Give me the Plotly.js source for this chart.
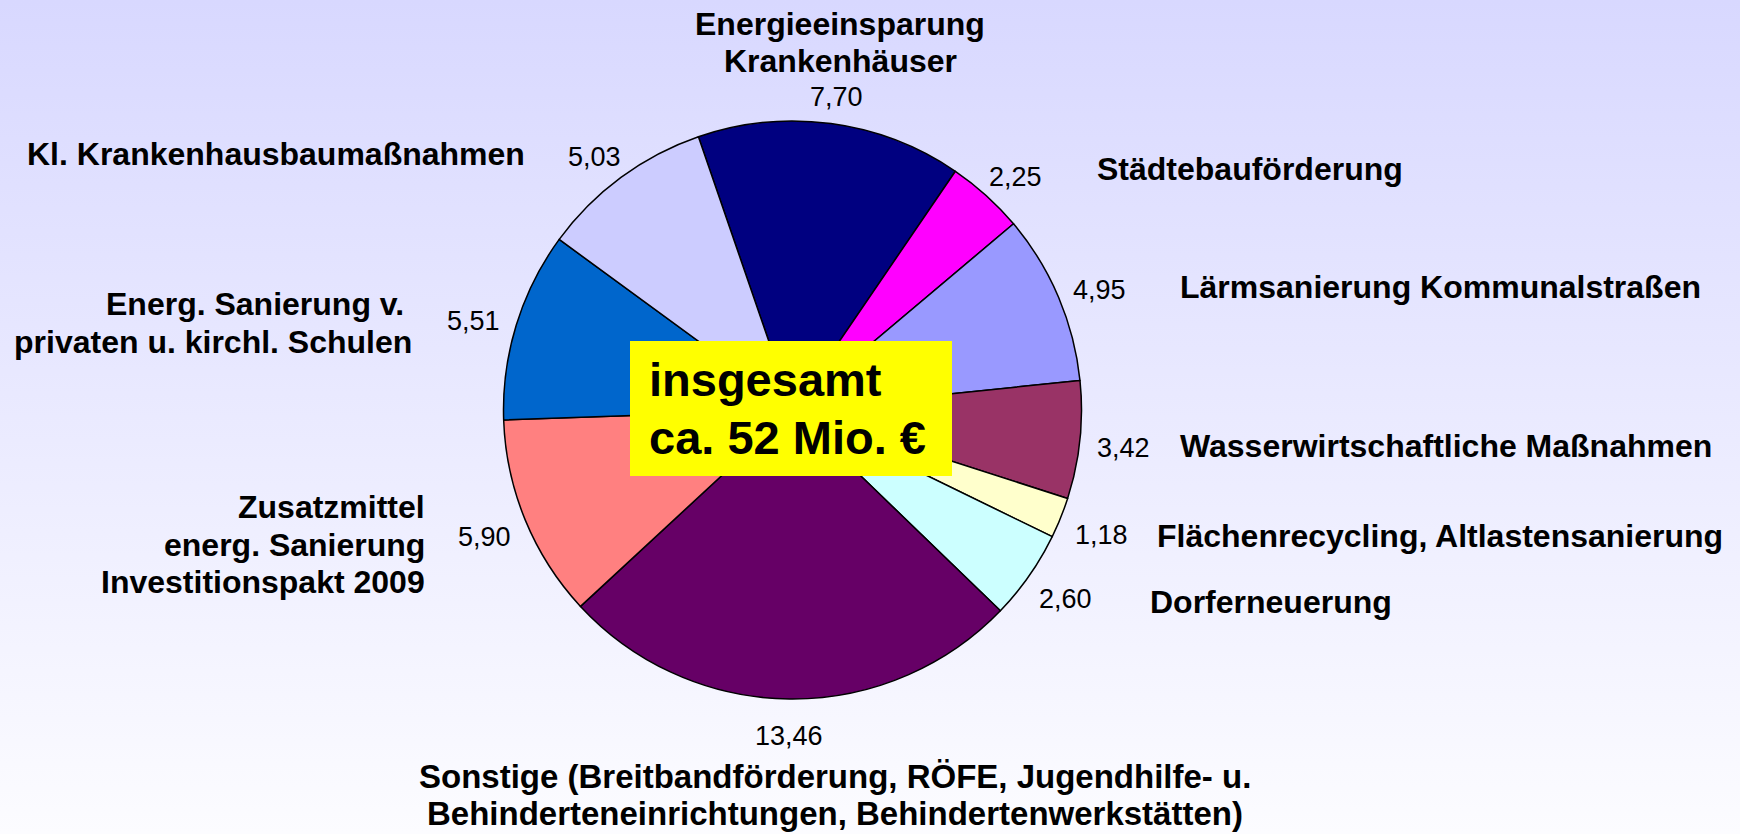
<!DOCTYPE html>
<html><head><meta charset="utf-8">
<script src="https://cdn.plot.ly/plotly-3.0.1.min.js"></script>
<style>
html,body{margin:0;padding:0;}
body{width:1740px;height:834px;background:linear-gradient(to bottom,#D8D8FF 0%,#FCFCFF 100%);overflow:hidden}
#chart{width:1740px;height:834px;}
</style></head><body><div id="chart"></div>
<script>
// ---- data ----
const categories = [
  "Energieeinsparung Krankenhäuser",
  "Städtebauförderung",
  "Lärmsanierung Kommunalstraßen",
  "Wasserwirtschaftliche Maßnahmen",
  "Flächenrecycling, Altlastensanierung",
  "Dorferneuerung",
  "Sonstige (Breitbandförderung, RÖFE, Jugendhilfe- u. Behinderteneinrichtungen, Behindertenwerkstätten)",
  "Zusatzmittel energ. Sanierung Investitionspakt 2009",
  "Energ. Sanierung v. privaten u. kirchl. Schulen",
  "Kl. Krankenhausbaumaßnahmen"
];
const values = [7.70, 2.25, 4.95, 3.42, 1.18, 2.60, 13.46, 5.90, 5.51, 5.03];
const labelLines = [
  ["Energieeinsparung", "Krankenhäuser"],
  ["Städtebauförderung"],
  ["Lärmsanierung Kommunalstraßen"],
  ["Wasserwirtschaftliche Maßnahmen"],
  ["Flächenrecycling, Altlastensanierung"],
  ["Dorferneuerung"],
  ["Sonstige (Breitbandförderung, RÖFE, Jugendhilfe- u.", "Behinderteneinrichtungen, Behindertenwerkstätten)"],
  ["Zusatzmittel", "energ. Sanierung", "Investitionspakt 2009"],
  ["Energ. Sanierung v.", "privaten u. kirchl. Schulen"],
  ["Kl. Krankenhausbaumaßnahmen"]
];
const totalText = ["insgesamt", "ca. 52 Mio. €"];

// ---- styles / layout ----
const colors = ["#000080","#FF00FF","#9999FF","#993366","#FFFFCC","#CCFFFF","#660066","#FF8080","#0066CC","#CCCCFF"];
const W = 1740, H = 834;
const cx = 792.5, cy = 410, R = 289, rotation = -19;
const FONT = "Liberation Sans, Arial, Helvetica, sans-serif";
const valueFont = 27;
// per category: x of each line, anchor, y of first line (pixel), line step, font size
const labelPos = [
  {x:[840,840], a:"center", y:24, s:36.7, f:32},
  {x:[1095], a:"left", y:169, s:0, f:32},
  {x:[1178], a:"left", y:287, s:0, f:32},
  {x:[1178], a:"left", y:446, s:0, f:32},
  {x:[1155], a:"left", y:536, s:0, f:32},
  {x:[1148], a:"left", y:602, s:0, f:32},
  {x:[835,835], a:"center", y:776, s:37, f:33}, 
  {x:[427,427,427], a:"right", y:507, s:37.5, f:32},
  {x:[406,413.5], a:"right", y:304, s:38, f:32},
  {x:[526.5], a:"right", y:154, s:0, f:32}
];
const box = {x0:630, y0:341, x1:952, y1:476};
const boxText = {x:647, y:[379, 438], size:47};

const px = v => v / W;
const py = v => 1 - v / H;

const annotations = [];
// category labels
labelLines.forEach((lines, i) => {
  const p = labelPos[i];
  lines.forEach((t, j) => {
    annotations.push({
      text: t, xref:"paper", yref:"paper",
      x: px(p.x[j]), y: py(p.y + j * p.s),
      xanchor: p.a, yanchor:"middle", showarrow:false,
      font:{family:FONT, size:p.f, color:"#000", weight:"bold"}
    });
  });
});
// value labels, placed just outside each slice's mid angle
const total = values.reduce((a, b) => a + b, 0);
let cum = 0;
const gap = 18, shiftY = 5;
values.forEach((v, i) => {
  const mid = (rotation + (cum + v / 2) / total * 360) * Math.PI / 180;
  cum += v;
  const txt = v.toFixed(2).replace(".", ",");
  const hw = valueFont * (0.556 * (txt.length - 1) + 0.278) / 2;
  const hh = valueFont * 0.716 / 2 + 4;
  const s = Math.sin(mid), c = Math.cos(mid);
  const x = cx + (R + gap) * s + hw * s;
  const y = cy - (R + gap) * c - hh * c + shiftY;
  annotations.push({
    text: txt, xref:"paper", yref:"paper", x: px(x), y: py(y),
    xanchor:"center", yanchor:"middle", showarrow:false,
    font:{family:FONT, size:valueFont, color:"#000"}
  });
});
// total box text
totalText.forEach((t, j) => {
  annotations.push({
    text: t, xref:"paper", yref:"paper", x: px(boxText.x), y: py(boxText.y[j]),
    xanchor:"left", yanchor:"middle", showarrow:false,
    font:{family:FONT, size:boxText.size, color:"#000", weight:"bold"}
  });
});

const data = [{
  type:"pie",
  labels: categories,
  values: values,
  sort:false,
  direction:"clockwise",
  rotation: rotation,
  textinfo:"none",
  hoverinfo:"none",
  marker:{colors: colors, line:{color:"#000", width:1.5}},
  domain:{x:[px(cx - R), px(cx + R)], y:[1 - (cy + R) / H, 1 - (cy - R) / H]},
  showlegend:false
}];

const layout = {
  width:W, height:H,
  margin:{l:0, r:0, t:0, b:0, pad:0},
  paper_bgcolor:"rgba(0,0,0,0)",
  plot_bgcolor:"rgba(0,0,0,0)",
  showlegend:false,
  font:{family:FONT},
  shapes:[{
    type:"rect", xref:"paper", yref:"paper", layer:"above",
    x0:px(box.x0), x1:px(box.x1), y0:py(box.y1), y1:py(box.y0),
    fillcolor:"#FFFF00", line:{width:0}
  }],
  annotations: annotations
};

Plotly.newPlot("chart", data, layout, {displayModeBar:false, staticPlot:true});
</script>
</body></html>
